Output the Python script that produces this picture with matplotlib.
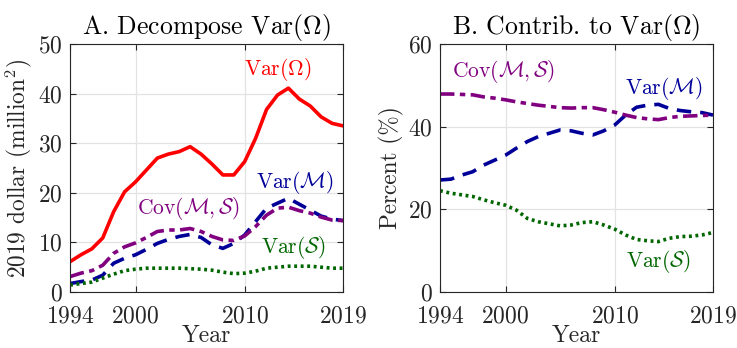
import numpy as np
import matplotlib
matplotlib.use('Agg')
import matplotlib.pyplot as plt

plt.rcParams['font.family'] = 'serif'
plt.rcParams['font.serif'] = ['cmr10']
plt.rcParams['mathtext.fontset'] = 'cm'
plt.rcParams['axes.unicode_minus'] = False
plt.rcParams['axes.formatter.use_mathtext'] = True

# Datos
anios = np.arange(1994, 2020)

var_omega = [6.1, 7.5, 8.7, 10.9, 16.2, 20.2, 22.2, 24.6, 27.0, 27.8, 28.3, 29.3, 27.8,
             25.8, 23.6, 23.6, 26.3, 31.0, 36.8, 39.7, 41.1, 38.9, 37.5, 35.3, 34.0, 33.5]
cov_ms = [3.1, 3.8, 4.3, 5.4, 7.8, 9.1, 9.9, 11.0, 12.2, 12.5, 12.5, 12.8, 12.2,
          11.2, 10.5, 10.4, 11.3, 13.2, 15.5, 16.9, 17.1, 16.4, 15.9, 15.1, 14.5, 14.4]
var_m = [1.7, 2.1, 2.4, 3.4, 5.8, 6.8, 7.5, 8.6, 9.8, 10.6, 11.2, 11.6, 11.0,
         9.5, 8.8, 9.8, 11.5, 14.2, 16.9, 17.9, 18.9, 17.7, 16.5, 15.3, 14.7, 14.4]
var_s = [1.4, 1.7, 2.0, 2.8, 3.6, 4.3, 4.6, 4.8, 4.8, 4.8, 4.8, 4.7, 4.6,
         4.4, 4.0, 3.7, 3.8, 4.2, 4.8, 5.0, 5.2, 5.2, 5.2, 5.0, 4.8, 4.8]

pct_cov = [47.9, 47.9, 47.8, 47.7, 47.2, 46.9, 46.5, 46.0, 45.6, 45.2, 44.9, 44.6, 44.5,
           44.6, 44.6, 44.1, 43.5, 42.8, 42.2, 41.9, 41.7, 42.2, 42.5, 42.6, 42.7, 42.8]
pct_m = [27.1, 27.3, 28.3, 29.1, 30.7, 31.9, 33.1, 34.8, 36.4, 37.6, 38.4, 39.2, 39.0,
         38.4, 38.0, 39.0, 40.4, 42.8, 44.7, 45.2, 45.4, 44.4, 43.9, 43.6, 43.4, 42.8]
pct_s = [24.5, 23.9, 23.5, 23.1, 22.3, 21.6, 21.0, 19.8, 17.8, 17.0, 16.5, 16.0, 16.2,
         16.8, 17.0, 16.2, 15.2, 13.8, 12.7, 12.4, 12.2, 13.0, 13.4, 13.5, 13.8, 14.4]

ticks_x = [1994, 2000, 2010, 2019]

rojo = '#FF0000'
azul = '#000099'
morado = '#800080'
verde = '#006600'
gris = '#262626'
lw = 2.6

fig = plt.figure(figsize=(7.37, 3.48), dpi=100)
ax1 = fig.add_axes([70/737, 56/348, 273/737, 248/348])
ax2 = fig.add_axes([440/737, 56/348, 273/737, 248/348])

def estilo(ax, ymax, yticks):
    ax.set_xlim(1994, 2019)
    ax.set_ylim(0, ymax)
    ax.set_xticks(ticks_x)
    ax.set_yticks(yticks)
    ax.grid(True, color='#E3E3E3', linewidth=0.9)
    ax.set_axisbelow(True)
    ax.tick_params(direction='in', top=True, right=True, length=4, width=0.8,
                   labelsize=17, colors=gris)
    ax.tick_params(axis='x', pad=9.5)
    ax.tick_params(axis='y', pad=5)
    for s in ax.spines.values():
        s.set_color(gris)
        s.set_linewidth(0.8)
    ax.set_xlabel('Year', fontsize=17, color=gris, labelpad=-1.5)

# Panel A
ax1.plot(anios, var_omega, color=rojo, lw=lw, ls='-')
ax1.plot(anios, var_m, color=azul, lw=lw, ls=(0, (4, 2.5)))
ax1.plot(anios, cov_ms, color=morado, lw=lw, ls=(0, (4, 1.5, 1.5, 1.5)))
ax1.plot(anios, var_s, color=verde, lw=lw, ls=(0, (0.8, 1.0)))
estilo(ax1, 50, [0, 10, 20, 30, 40, 50])
ax1.set_title(r'A. Decompose Var$(\Omega)$', fontsize=18.5, pad=7)
ax1.set_ylabel(r'2019 dollar (million$^2$)', fontsize=16.8, color=gris, labelpad=3)
ax1.text(2013.0, 44.8, r'Var$(\Omega)$', color=rojo, fontsize=15.5, ha='center', va='center')
ax1.text(2014.6, 22.0, r'Var$(\mathcal{M})$', color=azul, fontsize=15.5, ha='center', va='center')
ax1.text(2004.8, 16.9, r'Cov$(\mathcal{M},\mathcal{S})$', color=morado, fontsize=15.5, ha='center', va='center')
ax1.text(2014.5, 8.9, r'Var$(\mathcal{S})$', color=verde, fontsize=15.5, ha='center', va='center')

# Panel B
ax2.plot(anios, pct_m, color=azul, lw=lw, ls=(0, (4, 2.5)))
ax2.plot(anios, pct_cov, color=morado, lw=lw, ls=(0, (4, 1.5, 1.5, 1.5)))
ax2.plot(anios, pct_s, color=verde, lw=lw, ls=(0, (0.8, 1.0)))
estilo(ax2, 60, [0, 20, 40, 60])
ax2.set_title(r'B. Contrib. to Var$(\Omega)$', fontsize=18.5, pad=7)
ax2.set_ylabel('Percent (%)', fontsize=16.8, color=gris, labelpad=3)
ax2.text(1999.8, 53.3, r'Cov$(\mathcal{M},\mathcal{S})$', color=morado, fontsize=15.5, ha='center', va='center')
ax2.text(2014.5, 49.3, r'Var$(\mathcal{M})$', color=azul, fontsize=15.5, ha='center', va='center')
ax2.text(2014.0, 7.3, r'Var$(\mathcal{S})$', color=verde, fontsize=15.5, ha='center', va='center')

fig.savefig('out.png', dpi=100)
